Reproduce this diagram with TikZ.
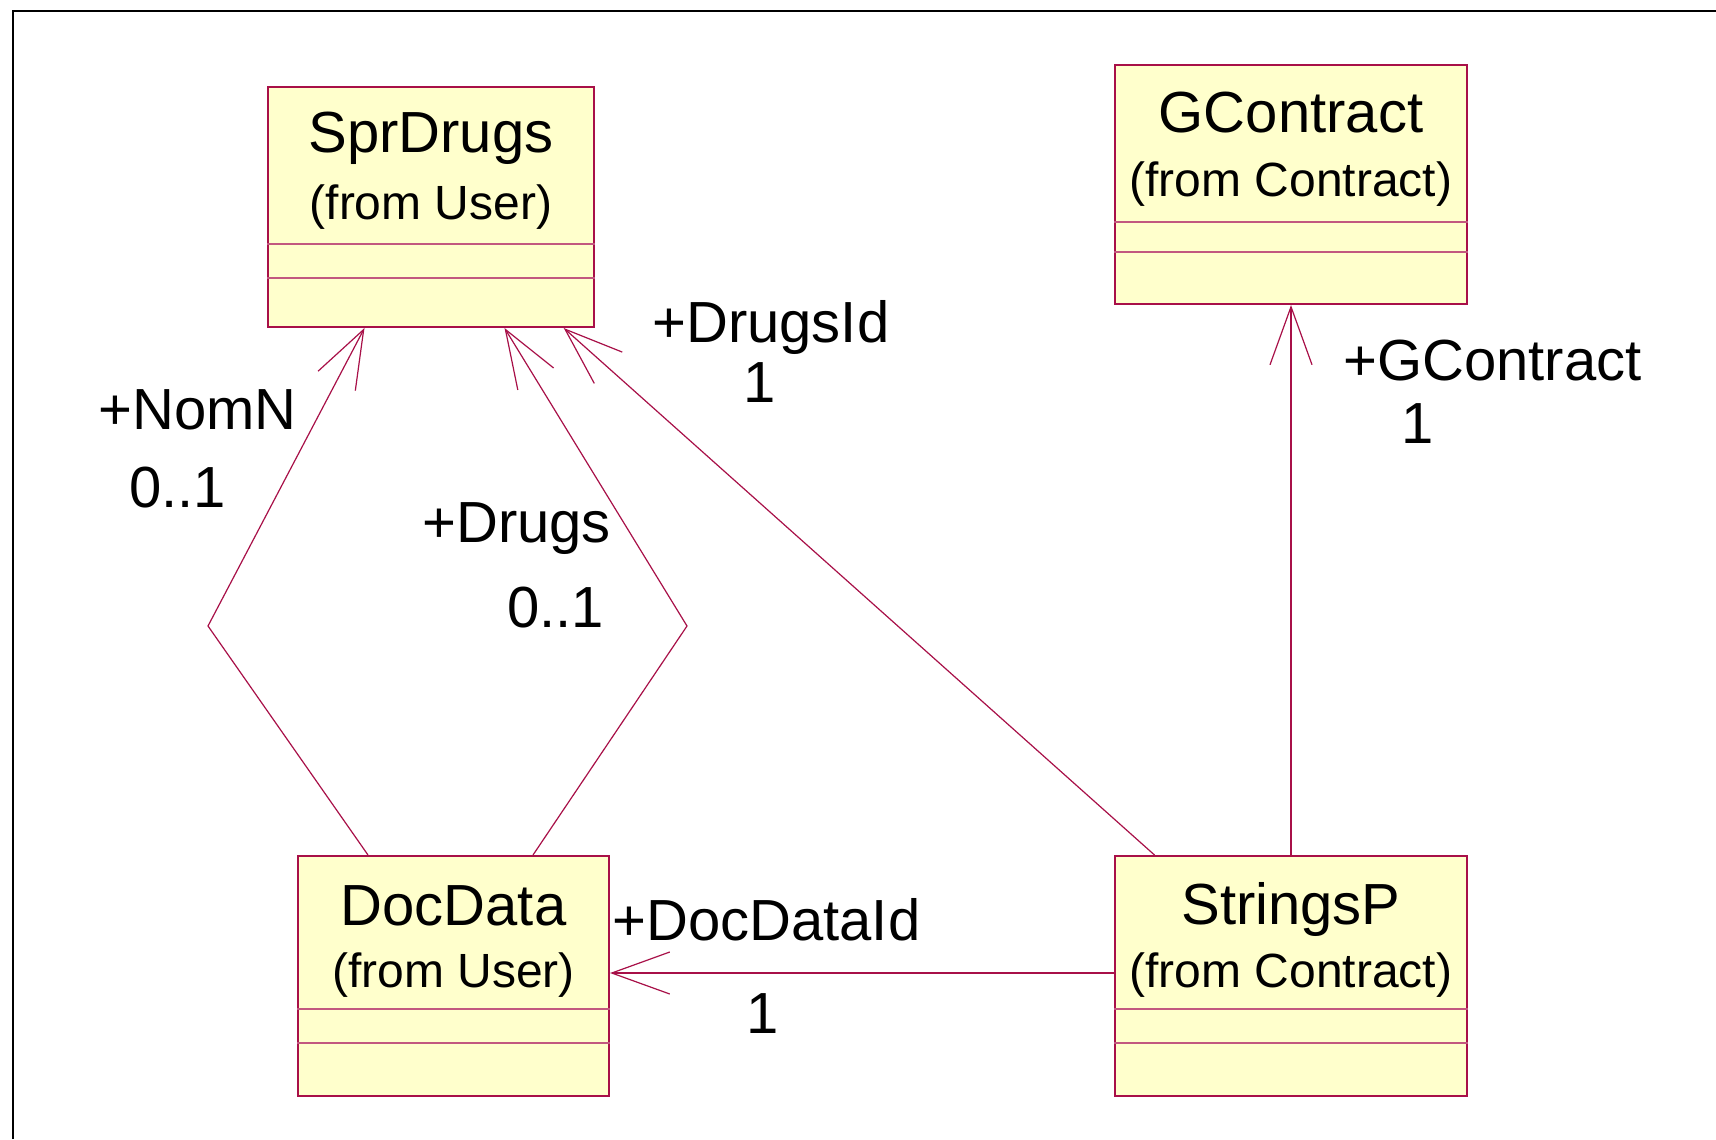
\documentclass[tikz,border=0pt]{standalone}
\usepackage{fontspec}
\setmainfont{Liberation Sans}
\usepackage{tikz}
\usetikzlibrary{arrows.meta,calc}
\definecolor{rosered}{RGB}{168,16,72}
\definecolor{roseyellow}{RGB}{255,255,204}

\begin{document}
\begin{tikzpicture}[x=0.5pt,y=-0.5pt,
  classbox/.style={draw=rosered,fill=roseyellow,line width=1pt,inner sep=0pt,anchor=north west},
  compart/.style={draw=rosered!70,line width=0.7pt},
  classname/.style={anchor=base,inner sep=0pt,font=\fontsize{29pt}{34pt}\selectfont},
  pkgname/.style={anchor=base,inner sep=0pt,font=\fontsize{24pt}{28pt}\selectfont},
  rolename/.style={anchor=base west,inner sep=0pt,font=\fontsize{29pt}{34pt}\selectfont},
  assoc/.style={draw=rosered,line width=0.6pt,-{Straight Barb[length=29pt,width=21pt]}}]
\useasboundingbox (0,0) rectangle (1716,1139);
\fill[white] (0,0) rectangle (1716,1139);
\draw[line width=1.2pt] (13,1139) -- (13,11) -- (1716,11);

\node[classbox,minimum width=163pt,minimum height=120pt] (sprdrugs) at (267,86) {};
\node[classbox,minimum width=176pt,minimum height=119.5pt] (gcontract) at (1114,64) {};
\node[classbox,minimum width=155.5pt,minimum height=120pt] (docdata) at (297,855) {};
\node[classbox,minimum width=176pt,minimum height=120pt] (stringsp) at (1114,855) {};

\draw[compart] ($(sprdrugs.north west)+(0,158)$) -- ($(sprdrugs.north east)+(0,158)$);
\draw[compart] ($(sprdrugs.north west)+(0,192)$) -- ($(sprdrugs.north east)+(0,192)$);
\draw[compart] ($(gcontract.north west)+(0,158)$) -- ($(gcontract.north east)+(0,158)$);
\draw[compart] ($(gcontract.north west)+(0,188)$) -- ($(gcontract.north east)+(0,188)$);
\draw[compart] ($(docdata.north west)+(0,154)$) -- ($(docdata.north east)+(0,154)$);
\draw[compart] ($(docdata.north west)+(0,188)$) -- ($(docdata.north east)+(0,188)$);
\draw[compart] ($(stringsp.north west)+(0,154)$) -- ($(stringsp.north east)+(0,154)$);
\draw[compart] ($(stringsp.north west)+(0,188)$) -- ($(stringsp.north east)+(0,188)$);

\node[classname] (sprName) at ($(sprdrugs.north)+(0,67)$) {SprDrugs};
\node[pkgname] (sprPkg) at ($(sprdrugs.north)+(0,134)$) {(from User)};
\node[classname] (gcName) at ($(gcontract.north)+(0,69)$) {GContract};
\node[pkgname] (gcPkg) at ($(gcontract.north)+(0,133)$) {(from Contract)};
\node[classname] (docName) at ($(docdata.north)+(0,70)$) {DocData};
\node[pkgname] (docPkg) at ($(docdata.north)+(0,132)$) {(from User)};
\node[classname] (strName) at ($(stringsp.north)+(0,69)$) {StringsP};
\node[pkgname] (strPkg) at ($(stringsp.north)+(0,132)$) {(from Contract)};

\coordinate (nomnBend) at (208,626);
\coordinate (drugsBend) at (687,626);
\draw[assoc] ($(docdata.north west)+(71,0)$) -- (nomnBend) -- ($(sprdrugs.south west)+(97.5,0)$);
\draw[assoc] ($(docdata.north west)+(236,0)$) -- (drugsBend) -- ($(sprdrugs.south west)+(237.5,0)$);
\draw[assoc] ($(stringsp.north west)+(40.5,0)$) -- ($(sprdrugs.south west)+(296.7,0)$);
\draw[assoc] (stringsp.north) -- (gcontract.south);
\draw[assoc] ($(stringsp.west)+(0,-3)$) -- ($(docdata.east)+(0,-3)$);

\node[rolename] (nomnRole) at (98,429) {+NomN};
\node[rolename] (nomnMult) at (129,507) {0..1};
\node[rolename] (drugsRole) at (422,542) {+Drugs};
\node[rolename] (drugsMult) at (507,627) {0..1};
\node[rolename] (drugsIdRole) at (652,342) {+DrugsId};
\node[rolename] (drugsIdMult) at (743,402) {1};
\node[rolename] (gcRole) at (1343,380) {+GContract};
\node[rolename] (gcMult) at (1401,443) {1};
\node[rolename] (docIdRole) at (612,940) {+DocDataId};
\node[rolename] (docIdMult) at (746,1033) {1};
\end{tikzpicture}
\end{document}
